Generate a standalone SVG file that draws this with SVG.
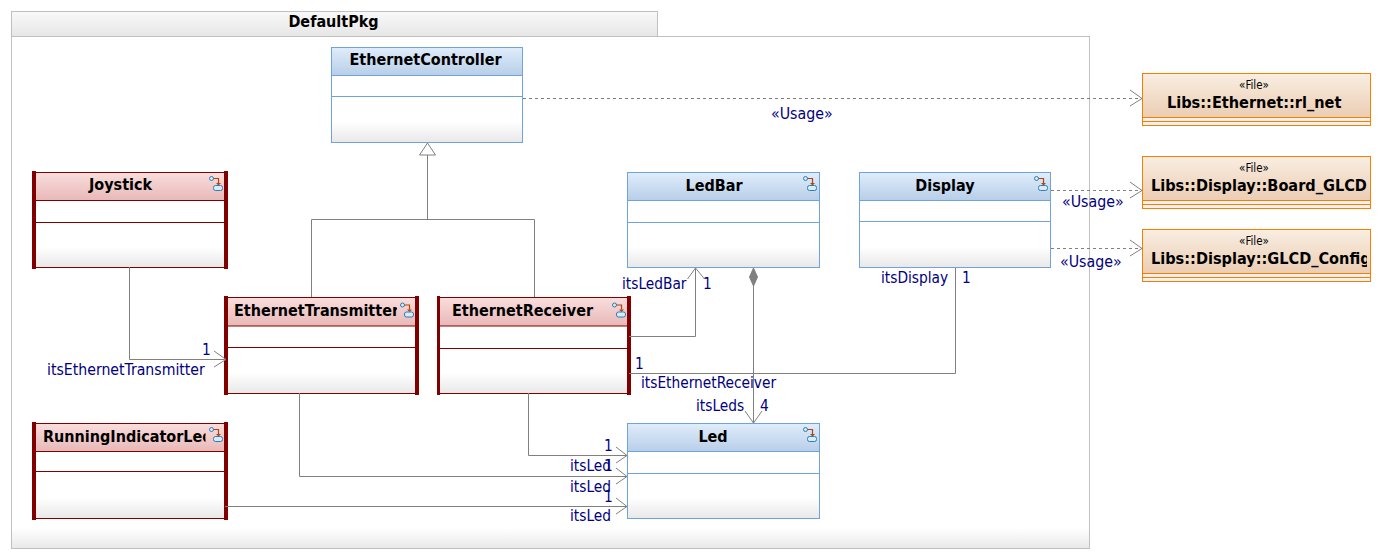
<svg xmlns="http://www.w3.org/2000/svg" width="1380" height="558" viewBox="0 0 1380 558">
<style>
text{font-family:"DejaVu Sans Condensed","DejaVu Sans",sans-serif;font-stretch:condensed}
.t{font-size:16px;font-weight:bold;fill:#000;text-anchor:middle}
.f{font-size:16.150px;font-weight:bold;fill:#000}
.l{font-size:15.300px;fill:#000080}
.u{font-size:15.800px;fill:#000080}
.s{font-size:11.500px;fill:#000;text-anchor:middle}
.c{fill:none;stroke:#808080;stroke-width:1}
.d{stroke-dasharray:3 3}
.cb{fill:url(#body);stroke:#6fa3d9}
.ch{fill:url(#blue);stroke:#6fa3d9}
.rb{fill:url(#body);stroke:#800000}
.rh{fill:url(#red);stroke:#800000}
.ob{fill:#f0f0f0;stroke:#f58000}
.oh{fill:url(#orange);stroke:#f58000}
.bar{fill:#800000}
.pk{stroke:#c0c0c0}
</style>
<defs>
<linearGradient id="blue" x1="0" y1="0" x2="0" y2="1"><stop offset="0" stop-color="#e0edfb"/><stop offset="1" stop-color="#b7cee8"/></linearGradient>
<linearGradient id="red" x1="0" y1="0" x2="0" y2="1"><stop offset="0" stop-color="#f9dedd"/><stop offset="1" stop-color="#e8b8b8"/></linearGradient>
<linearGradient id="orange" x1="0" y1="0" x2="0" y2="1"><stop offset="0" stop-color="#f9eee2"/><stop offset="1" stop-color="#ebcdb3"/></linearGradient>
<linearGradient id="body" x1="0" y1="0" x2="0" y2="1"><stop offset="0" stop-color="#fff"/><stop offset="0.78" stop-color="#fff"/><stop offset="1" stop-color="#e8e8e8"/></linearGradient>
<linearGradient id="pkbody" x1="0" y1="0" x2="0" y2="1"><stop offset="0" stop-color="#fff"/><stop offset="0.96" stop-color="#fff"/><stop offset="1" stop-color="#e8e8e8"/></linearGradient>
<linearGradient id="tab" x1="0" y1="0" x2="0" y2="1"><stop offset="0" stop-color="#f9f9f9"/><stop offset="1" stop-color="#e6e6e6"/></linearGradient>
<clipPath id="clipET"><rect x="228" y="298" width="169" height="28"/></clipPath>
<clipPath id="clipRIL"><rect x="36" y="424" width="169.500" height="28"/></clipPath>
<clipPath id="clipF"><rect x="1143" y="156" width="224" height="130"/></clipPath>
<g id="icon">
<circle cx="2.500" cy="2.500" r="2" fill="#d8ecf8" stroke="#2a7db5"/>
<path d="M4.500 2.500H9.500V7" fill="none" stroke="#b0440f" stroke-width="1.200"/>
<path d="M7 7H12L9.500 9.500Z" fill="#b0440f"/>
<rect x="4.500" y="9.500" width="9" height="5" rx="2" fill="#d8ecf8" stroke="#2a7db5"/>
</g>
</defs>

<g id="DefaultPkg">
<rect class="pk" x="11.500" y="11.500" width="646" height="25" fill="url(#tab)"/>
<rect class="pk" x="11.500" y="36.500" width="1078" height="512" fill="url(#pkbody)"/>
<text class="t" x="333.500" y="27">DefaultPkg</text>
</g>

<g id="EthernetController">
<rect class="cb" x="331.500" y="47.500" width="191" height="95"/>
<rect class="ch" x="331.500" y="47.500" width="191" height="28"/>
<path class="cb" d="M331.500 96.500H522.500"/>
<text class="t" x="425.500" y="65">EthernetController</text>
</g>

<g id="Joystick">
<rect class="rb" x="34.500" y="172.500" width="192" height="95"/>
<rect class="rh" x="34.500" y="172.500" width="192" height="28"/>
<path class="rb" d="M34.500 222.500H226.500"/>
<rect class="bar" x="32" y="171" width="4" height="98"/>
<rect class="bar" x="224" y="171" width="4" height="98"/>
<text class="t" x="120.500" y="190">Joystick</text>
<use href="#icon" x="209" y="176"/>
</g>

<g id="EthernetTransmitter">
<rect class="rb" x="226.500" y="297.500" width="191" height="96"/>
<rect class="rh" x="226.500" y="297.500" width="191" height="28.500"/>
<path class="rb" d="M226.500 347.500H417.500"/>
<rect class="bar" x="224" y="296" width="4" height="99"/>
<rect class="bar" x="415" y="296" width="4" height="99"/>
<text class="t" x="234" y="316" style="text-anchor:start" clip-path="url(#clipET)">EthernetTransmitter</text>
<use href="#icon" x="400" y="302.500"/>
</g>

<g id="EthernetReceiver">
<rect class="rb" x="438.500" y="297.500" width="190" height="96"/>
<rect class="rh" x="438.500" y="297.500" width="190" height="28.500"/>
<path class="rb" d="M438.500 348.500H628.500"/>
<rect class="bar" x="437" y="296" width="3" height="99"/>
<rect class="bar" x="627" y="296" width="4" height="99"/>
<text class="t" x="522.500" y="316">EthernetReceiver</text>
<use href="#icon" x="612" y="302.500"/>
</g>

<g id="RunningIndicatorLed">
<rect class="rb" x="34.500" y="423.500" width="192" height="95"/>
<rect class="rh" x="34.500" y="423.500" width="192" height="28"/>
<path class="rb" d="M34.500 471.500H226.500"/>
<rect class="bar" x="32" y="422" width="4" height="98"/>
<rect class="bar" x="224" y="422" width="4" height="98"/>
<text class="t" x="43" y="442" style="text-anchor:start" clip-path="url(#clipRIL)">RunningIndicatorLed</text>
<use href="#icon" x="209" y="427"/>
</g>

<g id="LedBar">
<rect class="cb" x="627.500" y="172.500" width="192" height="95"/>
<rect class="ch" x="627.500" y="172.500" width="192" height="28"/>
<path class="cb" d="M627.500 222.500H819.500"/>
<text class="t" x="714" y="191">LedBar</text>
<use href="#icon" x="803" y="176"/>
</g>

<g id="Display">
<rect class="cb" x="859.500" y="172.500" width="191" height="95"/>
<rect class="ch" x="859.500" y="172.500" width="191" height="28"/>
<path class="cb" d="M859.500 221.500H1050.500"/>
<text class="t" x="945" y="191">Display</text>
<use href="#icon" x="1034" y="176"/>
</g>

<g id="Led">
<rect class="cb" x="627.500" y="423.500" width="192" height="95"/>
<rect class="ch" x="627.500" y="423.500" width="192" height="28"/>
<path class="cb" d="M627.500 473.500H819.500"/>
<text class="t" x="713" y="442">Led</text>
<use href="#icon" x="803" y="427"/>
</g>

<g id="rl_net">
<rect class="ob" x="1142.500" y="73.500" width="228" height="52"/>
<rect class="oh" x="1142.500" y="73.500" width="228" height="44"/>
<path class="ob" d="M1142.500 121.500H1370.500"/>
<text class="s" x="1254" y="89">«File»</text>
<text class="f" x="1167" y="108">Libs::Ethernet::rl_net</text>
</g>

<g id="Board_GLCD">
<rect class="ob" x="1142.500" y="156.500" width="228" height="52"/>
<rect class="oh" x="1142.500" y="156.500" width="228" height="44"/>
<path class="ob" d="M1142.500 204.500H1370.500"/>
<text class="s" x="1254" y="172">«File»</text>
<text class="f" x="1151" y="191" clip-path="url(#clipF)">Libs::Display::Board_GLCD</text>
</g>

<g id="GLCD_Config">
<rect class="ob" x="1142.500" y="229.500" width="228" height="52"/>
<rect class="oh" x="1142.500" y="229.500" width="228" height="44"/>
<path class="ob" d="M1142.500 277.500H1370.500"/>
<text class="s" x="1254" y="245">«File»</text>
<text class="f" x="1151" y="264" clip-path="url(#clipF)">Libs::Display::GLCD_Config</text>
</g>

<g id="connectors">
<path class="c d" d="M523 98.500H1142"/>
<path class="c" d="M1130 90L1142 98.500L1130 106"/>
<path class="c d" d="M1051 190.500H1142"/>
<path class="c" d="M1130 182L1142 190.500L1130 198"/>
<path class="c d" d="M1051 248.500H1142"/>
<path class="c" d="M1130 240L1142 248.500L1130 256"/>

<path class="c" d="M427.500 143L419.500 155H435.500ZM427.500 155V219.500M311.500 297V219.500H534.500V297"/>

<path class="c" d="M129.500 267V359.500H226"/>
<path class="c" d="M214 351L226 359.500L214 367"/>

<path class="c" d="M299.500 393V476.500H627"/>
<path class="c" d="M616 468L627 476.500L616 484"/>
<path class="c" d="M528.500 393V455.500H627"/>
<path class="c" d="M616 447L627 455.500L616 463"/>
<path class="c" d="M225 506.500H627"/>
<path class="c" d="M616 498L627 506.500L616 514"/>

<path class="c" d="M629 336.500H695.500V268"/>
<path class="c" d="M687.500 279L695.500 268L704.500 279"/>
<path class="c" d="M629 373.500H955.500V268"/>

<path d="M753.500 268L757.500 277L753.500 286L749.500 277Z" fill="#808080" stroke="#808080"/>
<path class="c" d="M753.500 286V423"/>
<path class="c" d="M745 411L753.500 423L762 411"/>
</g>

<g id="labels">
<text class="u" x="771" y="119">«Usage»</text>
<text class="u" x="1062" y="207">«Usage»</text>
<text class="u" x="1060" y="267">«Usage»</text>
<text class="l" x="622" y="289">itsLedBar</text>
<text class="l" x="703" y="289">1</text>
<text class="l" x="881" y="283">itsDisplay</text>
<text class="l" x="962" y="283">1</text>
<text class="l" x="202" y="355">1</text>
<text class="l" x="47" y="375" style="font-size:15.700px">itsEthernetTransmitter</text>
<text class="l" x="635" y="369">1</text>
<text class="l" x="641" y="388">itsEthernetReceiver</text>
<text class="l" x="696" y="411">itsLeds</text>
<text class="l" x="760" y="411">4</text>
<text class="l" x="604" y="451">1</text>
<text class="l" x="570" y="471">itsLed</text>
<text class="l" x="604" y="471">1</text>
<text class="l" x="570" y="492">itsLed</text>
<text class="l" x="604" y="502">1</text>
<text class="l" x="570" y="521">itsLed</text>
</g>
</svg>
